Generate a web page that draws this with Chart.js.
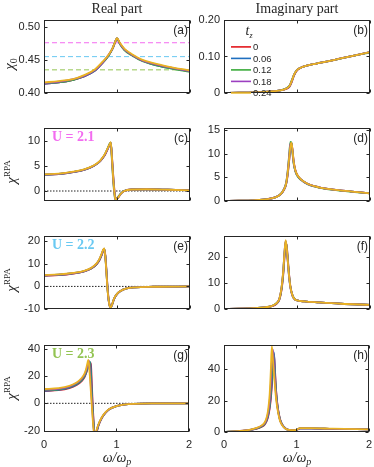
<!DOCTYPE html>
<html>
<head>
<meta charset="utf-8">
<script src="https://cdn.jsdelivr.net/npm/chart.js@4.4.1/dist/chart.umd.min.js"></script>
<style>
  html, body { margin: 0; padding: 0; background: #fff; }
  body { width: 374px; height: 467px; position: relative; overflow: hidden; font-family: "Liberation Sans", Arial, sans-serif; }
  canvas { position: absolute; }
  .t { position: absolute; white-space: nowrap; color: #262626; line-height: 1; }
  .title { font-family: "Liberation Serif", "Times New Roman", serif; font-size: 14px; color: #262626; }
  .plab { font-size: 12px; }
  .ulab { font-family: "Liberation Serif", serif; font-weight: bold; font-size: 14px; }
  .ax { font-family: "Liberation Serif", serif; font-size: 15px; }
  .ax sup { font-size: 9px; font-style: normal; vertical-align: 6px; }
  .ax sub { font-size: 10px; font-style: normal; vertical-align: -3px; }
  .xl { font-family: "Liberation Serif", serif; font-style: italic; font-size: 14px; }
  .xl sub { font-size: 10px; vertical-align: -3px; }
</style>
</head>
<body>
<script>
// ---------- data ----------
const TZ_LABELS = ['0', '0.06', '0.12', '0.18', '0.24'];
const SERIES_COLORS = ['#e3171c', '#1f6fbf', '#3aab3a', '#9c3fc0', '#e9b322'];

const X_TICKS = [0, 1, 2];
const X_TICK_LABELS = ['0', '1', '2'];

// (a) Re chi0
const wA = [0, 0.2, 0.4, 0.55, 0.7, 0.8, 0.88, 0.94, 0.98, 1.0, 1.04, 1.1, 1.2, 1.35, 1.5, 1.7, 2.0];
const reChi0 = [
  [0.414, 0.416, 0.420, 0.425, 0.434, 0.445, 0.456, 0.467, 0.478, 0.482, 0.475, 0.466, 0.458, 0.449, 0.444, 0.439, 0.433],
  [0.414, 0.416, 0.420, 0.425, 0.434, 0.445, 0.456, 0.467, 0.479, 0.482, 0.474, 0.466, 0.458, 0.449, 0.443, 0.438, 0.433],
  [0.415, 0.416, 0.420, 0.426, 0.435, 0.446, 0.456, 0.468, 0.479, 0.483, 0.474, 0.465, 0.457, 0.448, 0.443, 0.438, 0.432],
  [0.415, 0.417, 0.421, 0.426, 0.435, 0.446, 0.457, 0.468, 0.479, 0.483, 0.475, 0.466, 0.458, 0.449, 0.444, 0.439, 0.433],
  [0.416, 0.418, 0.421, 0.427, 0.436, 0.447, 0.457, 0.468, 0.479, 0.483, 0.476, 0.467, 0.459, 0.450, 0.445, 0.440, 0.434]
];
const U_INV_LEVELS = [0.476, 0.455, 0.435];
const U_COLORS = ['#f36cf0', '#69c9f2', '#93c452'];
const U_TEXTS = ['U = 2.1', 'U = 2.2', 'U = 2.3'];

// (b) Im chi0
const wB = [0, 0.2, 0.4, 0.6, 0.75, 0.82, 0.86, 0.9, 0.93, 0.96, 1.0, 1.05, 1.12, 1.25, 1.5, 1.75, 2.0];
const imChi0 = [
  [0, 0.0008, 0.0018, 0.0038, 0.0064, 0.0093, 0.012, 0.018, 0.031, 0.048, 0.062, 0.069, 0.074, 0.080, 0.090, 0.101, 0.112],
  [0, 0.0008, 0.0018, 0.0038, 0.0065, 0.0094, 0.013, 0.019, 0.033, 0.049, 0.063, 0.069, 0.074, 0.080, 0.090, 0.101, 0.112],
  [0, 0.0008, 0.0018, 0.0039, 0.0066, 0.0097, 0.014, 0.021, 0.036, 0.051, 0.063, 0.069, 0.074, 0.080, 0.090, 0.101, 0.111],
  [0, 0.0008, 0.0018, 0.0038, 0.0065, 0.0095, 0.013, 0.020, 0.034, 0.050, 0.063, 0.069, 0.074, 0.080, 0.090, 0.101, 0.112],
  [0, 0.0008, 0.0018, 0.0038, 0.0065, 0.0095, 0.013, 0.020, 0.034, 0.050, 0.063, 0.069, 0.074, 0.080, 0.090, 0.101, 0.112]
];

// (c) Re chiRPA, U = 2.1
const wC = [0, 0.2, 0.4, 0.55, 0.68, 0.77, 0.83, 0.87, 0.9, 0.915, 0.93, 0.95, 0.97, 0.985, 1.01, 1.05, 1.1, 1.2, 1.4, 1.7, 2.0];
const reRpa21 = [
  [3.25, 3.4, 3.8, 4.25, 5.0, 6.0, 7.1, 8.3, 9.3, 9.6, 7.2, 2.8, -0.6, -1.6, -1.4, -0.6, 0.0, 0.3, 0.35, 0.25, 0.12],
  [3.25, 3.4, 3.8, 4.25, 5.0, 6.0, 7.2, 8.4, 9.3, 9.7, 7.0, 2.5, -0.8, -1.7, -1.4, -0.6, 0.0, 0.3, 0.35, 0.25, 0.12],
  [3.3, 3.45, 3.85, 4.3, 5.05, 6.05, 7.2, 8.5, 9.5, 9.7, 6.2, 1.6, -1.3, -1.8, -1.3, -0.5, 0.05, 0.3, 0.35, 0.25, 0.12],
  [3.3, 3.45, 3.85, 4.3, 5.05, 6.05, 7.2, 8.4, 9.4, 9.7, 6.6, 2.0, -1.1, -1.8, -1.4, -0.6, 0.0, 0.3, 0.35, 0.25, 0.12],
  [3.35, 3.5, 3.9, 4.35, 5.1, 6.1, 7.3, 8.5, 9.4, 9.8, 6.8, 2.2, -1.0, -1.8, -1.4, -0.6, 0.0, 0.3, 0.35, 0.25, 0.12]
];

// (d) Im chiRPA, U = 2.1
const wD = [0, 0.2, 0.4, 0.6, 0.7, 0.78, 0.82, 0.85, 0.87, 0.89, 0.91, 0.925, 0.94, 0.955, 0.975, 1.0, 1.05, 1.15, 1.3, 1.5, 1.75, 2.0];
const imRpa21 = [
  [0, 0.05, 0.15, 0.4, 0.75, 1.45, 2.3, 3.4, 5.2, 8.0, 11.2, 12.1, 10.6, 8.4, 6.7, 5.6, 4.6, 3.6, 2.9, 2.4, 2.0, 1.6],
  [0, 0.05, 0.15, 0.4, 0.75, 1.45, 2.35, 3.5, 5.4, 8.3, 11.5, 12.3, 10.3, 8.1, 6.5, 5.5, 4.6, 3.6, 2.9, 2.4, 2.0, 1.6],
  [0, 0.05, 0.15, 0.4, 0.78, 1.55, 2.5, 3.8, 6.0, 9.3, 12.5, 12.2, 9.8, 7.8, 6.4, 5.4, 4.5, 3.5, 2.85, 2.35, 1.95, 1.6],
  [0, 0.05, 0.15, 0.4, 0.76, 1.5, 2.45, 3.7, 5.8, 8.9, 12.0, 12.2, 10.1, 8.0, 6.5, 5.5, 4.55, 3.55, 2.9, 2.4, 2.0, 1.6],
  [0, 0.05, 0.15, 0.4, 0.75, 1.5, 2.4, 3.6, 5.6, 8.6, 11.6, 12.3, 10.4, 8.2, 6.6, 5.6, 4.6, 3.6, 2.9, 2.4, 2.0, 1.6]
];

// (e) Re chiRPA, U = 2.2
const wE = [0, 0.2, 0.4, 0.55, 0.65, 0.72, 0.76, 0.79, 0.81, 0.825, 0.84, 0.855, 0.87, 0.885, 0.9, 0.915, 0.935, 0.96, 1.0, 1.05, 1.12, 1.25, 1.5, 2.0];
const reRpa22 = [
  [4.7, 5.0, 5.7, 6.6, 7.9, 9.8, 11.6, 13.8, 15.6, 16.5, 14.0, 7.5, 0.0, -5.5, -8.4, -9.2, -8.0, -5.6, -3.4, -2.0, -1.0, -0.4, -0.15, -0.02],
  [4.8, 5.1, 5.8, 6.7, 8.0, 9.9, 11.8, 14.0, 15.8, 16.6, 13.6, 7.0, -0.5, -5.8, -8.6, -9.2, -7.9, -5.5, -3.4, -2.0, -1.0, -0.4, -0.15, -0.02],
  [4.9, 5.2, 5.9, 6.8, 8.1, 10.0, 12.0, 14.2, 16.0, 16.7, 13.3, 6.5, -1.0, -6.2, -8.7, -9.3, -7.9, -5.4, -3.3, -2.0, -1.0, -0.4, -0.15, -0.02],
  [4.9, 5.2, 5.9, 6.8, 8.2, 10.1, 12.1, 14.3, 16.1, 16.7, 13.2, 6.3, -1.2, -6.3, -8.8, -9.3, -7.8, -5.4, -3.3, -2.0, -1.0, -0.4, -0.15, -0.02],
  [5.0, 5.3, 6.0, 6.9, 8.3, 10.2, 12.2, 14.5, 16.3, 16.8, 13.0, 6.0, -1.5, -5.8, -8.8, -9.3, -7.8, -5.4, -3.3, -2.0, -1.0, -0.4, -0.15, -0.02]
];

// (f) Im chiRPA, U = 2.2
const wF = [0, 0.2, 0.4, 0.55, 0.65, 0.72, 0.76, 0.79, 0.81, 0.83, 0.845, 0.86, 0.875, 0.89, 0.91, 0.94, 0.97, 1.0, 1.1, 1.3, 1.6, 2.0];
const imRpa22 = [
  [0, 0.1, 0.3, 0.55, 1.0, 2.0, 3.6, 7.5, 12.5, 20.0, 25.0, 24.0, 19.0, 13.8, 8.6, 5.1, 3.7, 3.3, 2.9, 2.5, 2.0, 1.6],
  [0, 0.1, 0.3, 0.58, 1.05, 2.1, 3.8, 8.0, 13.2, 21.0, 25.5, 23.5, 18.5, 13.4, 8.4, 5.0, 3.7, 3.3, 2.9, 2.5, 2.0, 1.6],
  [0, 0.1, 0.3, 0.6, 1.1, 2.2, 4.0, 8.4, 13.8, 21.8, 25.8, 22.8, 17.8, 12.8, 8.2, 5.0, 3.7, 3.3, 2.9, 2.5, 2.0, 1.6],
  [0, 0.1, 0.3, 0.6, 1.1, 2.2, 4.1, 8.6, 14.2, 22.2, 26.0, 22.6, 17.6, 12.6, 8.1, 4.9, 3.7, 3.3, 2.9, 2.5, 2.0, 1.6],
  [0, 0.1, 0.3, 0.6, 1.1, 2.2, 4.0, 8.5, 14.0, 22.0, 26.3, 23.0, 18.0, 13.0, 8.3, 5.0, 3.7, 3.3, 2.9, 2.5, 2.0, 1.6]
];

// (g) Re chiRPA, U = 2.3
const wG = [0, 0.2, 0.35, 0.45, 0.52, 0.56, 0.58, 0.6, 0.61, 0.62, 0.63, 0.64, 0.65, 0.66, 0.67, 0.68, 0.69, 0.7, 0.72, 0.75, 0.8, 0.85, 0.9, 1.0, 1.1, 1.25, 1.5, 2.0];
const reRpa23 = [
  [9.0, 9.6, 11.2, 13.5, 16.3, 19.2, 21.8, 25.0, 26.8, 28.2, 29.2, 29.8, 27.0, 14.0, 1.5, -9.0, -18.0, -24.0, -22.5, -16.5, -10.6, -6.9, -4.4, -2.0, -1.0, -0.4, -0.1, 0.0],
  [9.2, 9.8, 11.4, 13.8, 16.7, 19.7, 22.3, 25.6, 27.5, 29.0, 30.0, 30.2, 21.0, 9.0, -1.5, -11.0, -19.0, -24.0, -22.0, -16.3, -10.5, -6.8, -4.4, -2.0, -1.0, -0.4, -0.1, 0.0],
  [9.6, 10.2, 11.9, 14.3, 17.2, 20.3, 23.0, 26.5, 28.5, 30.2, 30.6, 23.5, 14.0, 4.5, -4.5, -13.0, -20.0, -24.0, -21.5, -16.0, -10.3, -6.7, -4.3, -2.0, -1.0, -0.4, -0.1, 0.0],
  [10.0, 10.6, 12.3, 14.8, 17.8, 21.0, 23.8, 27.5, 29.8, 31.2, 26.0, 18.0, 9.5, 1.0, -7.5, -15.0, -21.0, -24.0, -21.0, -15.8, -10.2, -6.6, -4.3, -2.0, -1.0, -0.4, -0.1, 0.0],
  [10.5, 11.1, 12.8, 15.3, 18.5, 22.0, 25.0, 29.5, 31.8, 29.0, 22.0, 14.0, 6.0, -2.0, -10.0, -17.0, -22.0, -24.0, -20.5, -15.5, -10.0, -6.5, -4.2, -2.0, -1.0, -0.4, -0.1, 0.0]
];

// (h) Im chiRPA, U = 2.3
const wH = [0, 0.2, 0.35, 0.45, 0.52, 0.56, 0.59, 0.61, 0.63, 0.645, 0.66, 0.675, 0.69, 0.705, 0.72, 0.74, 0.77, 0.8, 0.85, 0.9, 0.95, 1.0, 1.05, 1.2, 1.5, 2.0];
const imRpa23 = [
  [0, 0.45, 1.15, 2.1, 3.3, 4.7, 7.0, 10.0, 14.8, 20.5, 29.0, 40.0, 49.5, 38.0, 26.0, 16.5, 8.7, 5.0, 2.2, 1.3, 1.1, 1.4, 2.3, 2.3, 2.0, 1.7],
  [0, 0.5, 1.2, 2.2, 3.5, 5.0, 7.5, 10.8, 16.0, 22.5, 32.0, 45.0, 50.5, 36.0, 25.0, 16.0, 8.5, 4.9, 2.2, 1.3, 1.1, 1.4, 2.3, 2.3, 2.0, 1.7],
  [0, 0.5, 1.25, 2.3, 3.7, 5.2, 8.0, 11.5, 17.5, 25.0, 37.0, 51.5, 44.0, 33.0, 23.5, 15.5, 8.2, 4.8, 2.1, 1.3, 1.1, 1.4, 2.3, 2.3, 2.0, 1.7],
  [0, 0.55, 1.3, 2.4, 3.9, 5.5, 8.5, 12.5, 19.5, 29.0, 44.0, 52.5, 42.0, 31.0, 22.5, 15.0, 8.0, 4.7, 2.1, 1.3, 1.1, 1.4, 2.3, 2.3, 2.0, 1.7],
  [0, 0.6, 1.4, 2.6, 4.2, 6.0, 9.5, 14.5, 24.0, 38.0, 54.5, 46.0, 37.0, 28.0, 20.5, 14.0, 7.5, 4.5, 2.0, 1.3, 1.1, 1.4, 2.4, 2.4, 2.1, 1.7]
];

// y tick values and labels per panel
const yTicksA = [0.40, 0.45, 0.50], yLabelsA = ['0.40', '0.45', '0.50'];
const yTicksB = [0, 0.10, 0.20], yLabelsB = ['0', '0.10', '0.20'];
const yTicksC = [0, 5, 10], yLabelsC = ['0', '5', '10'];
const yTicksD = [0, 5, 10, 15], yLabelsD = ['0', '5', '10', '15'];
const yTicksE = [-10, 0, 10, 20], yLabelsE = ['-10', '0', '10', '20'];
const yTicksF = [0, 10, 20], yLabelsF = ['0', '10', '20'];
const yTicksG = [-20, 0, 20, 40], yLabelsG = ['-20', '0', '20', '40'];
const yTicksH = [0, 20, 40], yLabelsH = ['0', '20', '40'];

// ---------- layout ----------
const COL_LEFT = [44, 224];
const PLOT_W = 146;
const ROW_TOP = [17, 125, 233, 342];
const ROW_H = [92, 92, 92, 90];
const AXIS_COLOR = '#262626';

const framePlugin = {
  id: 'frame',
  afterDatasetsDraw(chart) {
    const { ctx, chartArea: a, scales } = chart;
    const x = scales.x, y = scales.y;
    const L = Math.round(a.left) + 0.5, R = Math.round(a.right) - 0.5;
    const T = Math.round(a.top) + 0.5, B = Math.round(a.bottom) - 0.5;
    ctx.save();
    ctx.strokeStyle = AXIS_COLOR;
    ctx.lineWidth = 1;
    ctx.strokeRect(L, T, R - L, B - T);
    ctx.beginPath();
    X_TICKS.forEach(v => {
      const px = Math.round(x.getPixelForValue(v)) + 0.5;
      ctx.moveTo(px, B); ctx.lineTo(px, B - 3);
      ctx.moveTo(px, T); ctx.lineTo(px, T + 3);
    });
    y.ticks.forEach(t => {
      const py = Math.round(y.getPixelForValue(t.value)) + 0.5;
      ctx.moveTo(L, py); ctx.lineTo(L + 3, py);
      ctx.moveTo(R, py); ctx.lineTo(R - 3, py);
    });
    ctx.stroke();
    ctx.restore();
  }
};

const legendPlugin = {
  id: 'tzLegend',
  afterDatasetsDraw(chart, args, opts) {
    if (!opts || !opts.show) return;
    const { ctx, chartArea: a } = chart;
    ctx.save();
    ctx.font = '9.5px "Liberation Sans", Arial, sans-serif';
    ctx.textBaseline = 'middle';
    ctx.textAlign = 'left';
    TZ_LABELS.forEach((lab, i) => {
      const yy = a.top + 27.3 + i * 11.5;
      ctx.strokeStyle = SERIES_COLORS[i];
      ctx.lineWidth = 1.6;
      ctx.beginPath();
      ctx.moveTo(a.left + 7, yy); ctx.lineTo(a.left + 27, yy);
      ctx.stroke();
      ctx.fillStyle = AXIS_COLOR;
      ctx.fillText(lab, a.left + 29, yy + 0.5);
    });
    ctx.restore();
  }
};

function makePanel(p) {
  const left = COL_LEFT[p.col], top = ROW_TOP[p.row], h = ROW_H[p.row];
  const bottom = p.row === 3;
  const cw = 40 + PLOT_W + 8;
  const ch = 8 + h + (bottom ? 24 : 4);
  const cv = document.createElement('canvas');
  cv.width = cw; cv.height = ch;
  cv.style.left = (left - 40) + 'px';
  cv.style.top = (top - 8) + 'px';
  cv.style.width = cw + 'px'; cv.style.height = ch + 'px';
  document.body.appendChild(cv);

  const datasets = [];
  (p.refs || []).forEach(r => {
    datasets.push({
      data: [{ x: 0, y: r.y }, { x: 2, y: r.y }],
      borderColor: r.color, borderWidth: 1, borderDash: r.dash,
      pointRadius: 0, order: 10, tension: 0
    });
  });
  p.series.forEach((ys, i) => {
    datasets.push({
      label: TZ_LABELS[i],
      data: p.xs.map((xv, k) => ({ x: xv, y: ys[k] })),
      borderColor: SERIES_COLORS[i], borderWidth: 1.8,
      pointRadius: 0, cubicInterpolationMode: 'monotone',
      order: 5 - i
    });
  });

  const tickFont = { family: '"Liberation Sans", Arial, sans-serif', size: 11 };
  new Chart(cv, {
    type: 'line',
    data: { datasets },
    plugins: [framePlugin, legendPlugin],
    options: {
      responsive: false, animation: false, devicePixelRatio: 1,
      layout: { padding: { left: 0, top: 8, right: 8, bottom: bottom ? 8 : 4 } },
      plugins: { legend: { display: false }, tooltip: { enabled: false }, tzLegend: { show: !!p.legend } },
      scales: {
        x: {
          type: 'linear', min: 0, max: 2, display: bottom,
          grid: { display: false, drawTicks: false }, border: { display: false },
          afterBuildTicks: s => { s.ticks = X_TICKS.map(v => ({ value: v })); },
          afterFit: s => { s.height = 16; },
          ticks: { padding: 6, color: AXIS_COLOR, font: tickFont, maxRotation: 0,
                   callback: v => X_TICK_LABELS[X_TICKS.indexOf(v)] }
        },
        y: {
          type: 'linear', min: p.yMin, max: p.yMax,
          grid: { display: false, drawTicks: false }, border: { display: false },
          afterBuildTicks: s => { s.ticks = p.yTicks.map(v => ({ value: v })); },
          afterFit: s => { s.width = 40; },
          ticks: { padding: 4, color: AXIS_COLOR, font: tickFont,
                   callback: v => p.yLabels[p.yTicks.indexOf(v)] }
        }
      }
    }
  });

  // panel letter
  addText(`(${p.letter})`, left + PLOT_W - 2, top + 13, 'plab', 'right');
}

function addText(html, x, y, cls, anchor, rotate) {
  const d = document.createElement('div');
  d.className = 't ' + cls;
  d.innerHTML = html;
  d.style.left = x + 'px';
  d.style.top = y + 'px';
  let tr = anchor === 'right' ? 'translate(-100%,-50%)' : anchor === 'left' ? 'translate(0,-50%)' : 'translate(-50%,-50%)';
  if (rotate) tr += ' rotate(-90deg)';
  d.style.transform = tr;
  document.body.appendChild(d);
  return d;
}

const zeroLine = [{ y: 0, color: '#222', dash: [1.5, 1.5] }];

makePanel({ row: 0, col: 0, letter: 'a', xs: wA, series: reChi0, yMin: 0.40, yMax: 0.511, yTicks: yTicksA, yLabels: yLabelsA,
  refs: U_INV_LEVELS.map((v, i) => ({ y: v, color: U_COLORS[i], dash: [5, 3] })) });
makePanel({ row: 0, col: 1, letter: 'b', xs: wB, series: imChi0, yMin: 0, yMax: 0.201, yTicks: yTicksB, yLabels: yLabelsB, legend: true });
makePanel({ row: 1, col: 0, letter: 'c', xs: wC, series: reRpa21, yMin: -2, yMax: 12.7, yTicks: yTicksC, yLabels: yLabelsC, refs: zeroLine });
makePanel({ row: 1, col: 1, letter: 'd', xs: wD, series: imRpa21, yMin: 0, yMax: 15.5, yTicks: yTicksD, yLabels: yLabelsD });
makePanel({ row: 2, col: 0, letter: 'e', xs: wE, series: reRpa22, yMin: -10, yMax: 22.5, yTicks: yTicksE, yLabels: yLabelsE, refs: zeroLine });
makePanel({ row: 2, col: 1, letter: 'f', xs: wF, series: imRpa22, yMin: 0, yMax: 28, yTicks: yTicksF, yLabels: yLabelsF });
makePanel({ row: 3, col: 0, letter: 'g', xs: wG, series: reRpa23, yMin: -21, yMax: 43, yTicks: yTicksG, yLabels: yLabelsG, refs: zeroLine });
makePanel({ row: 3, col: 1, letter: 'h', xs: wH, series: imRpa23, yMin: 0, yMax: 55.5, yTicks: yTicksH, yLabels: yLabelsH });

// column titles
addText('Real part', 117, 9, 'title', 'center');
addText('Imaginary part', 297, 9, 'title', 'center');

// y-axis titles
addText('<i>χ</i><sub>0</sub>', 10, 64, 'ax', 'center', true);
addText('<i>χ</i><sup>RPA</sup>', 11, 172, 'ax', 'center', true);
addText('<i>χ</i><sup>RPA</sup>', 11, 280, 'ax', 'center', true);
addText('<i>χ</i><sup>RPA</sup>', 11, 388, 'ax', 'center', true);

// x-axis titles
addText('ω/ω<sub>p</sub>', 117, 459, 'xl', 'center');
addText('ω/ω<sub>p</sub>', 297, 459, 'xl', 'center');

// U labels
U_TEXTS.forEach((s, i) => {
  const d = addText(s, 52, ROW_TOP[i + 1] + 12, 'ulab', 'left');
  d.style.color = U_COLORS[i];
});

// legend title
addText('<i>t</i><sub style="font-size:8px">z</sub>', 249, 32, 'xl', 'center');
</script>
</body>
</html>
